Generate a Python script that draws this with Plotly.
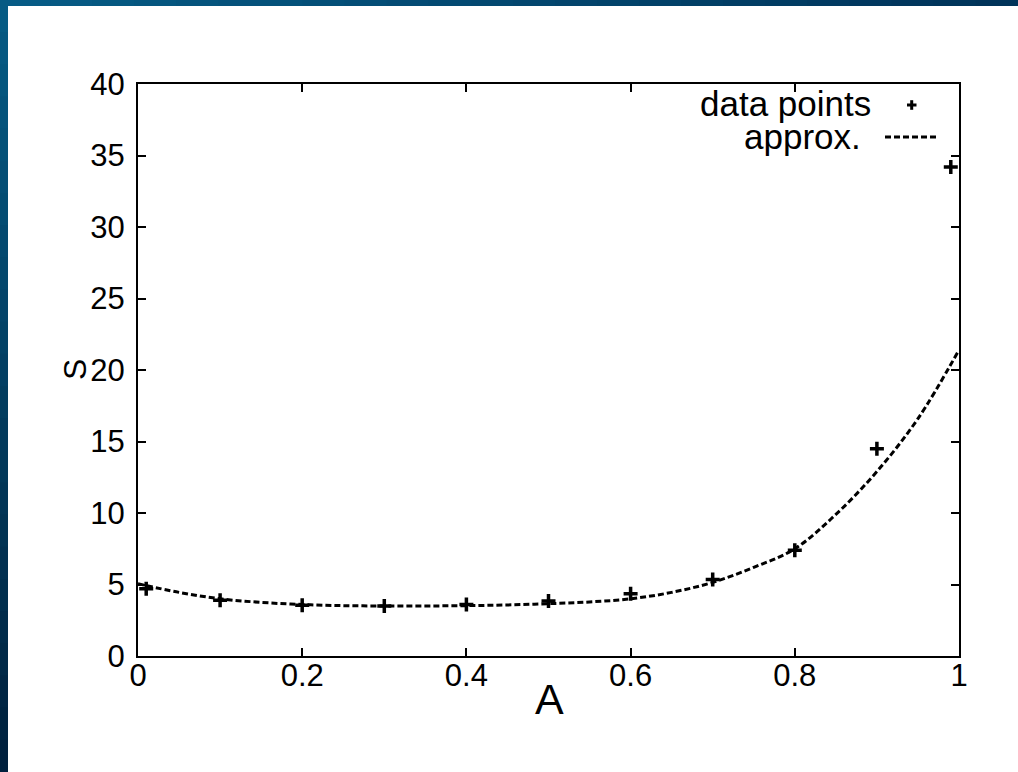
import plotly.graph_objects as go

# Data
data_A = [0.01, 0.1, 0.2, 0.3, 0.4, 0.5, 0.6, 0.7, 0.8, 0.9, 0.99]
data_S = [4.7, 3.9, 3.55, 3.5, 3.6, 3.85, 4.35, 5.35, 7.4, 14.5, 34.2]

approx_A = [0.0, 0.05, 0.1, 0.15, 0.2, 0.25, 0.3, 0.35, 0.4, 0.45, 0.5,
            0.55, 0.6, 0.65, 0.7, 0.75, 0.8, 0.85, 0.9, 0.95, 1.0]
approx_S = [5.05, 4.45, 4.0, 3.75, 3.6, 3.52, 3.5, 3.5, 3.52, 3.57, 3.66,
            3.78, 4.0, 4.45, 5.15, 6.2, 7.5, 9.9, 12.9, 16.6, 21.4]

x_ticks = [0, 0.2, 0.4, 0.6, 0.8, 1]
x_labels = ["0", "0.2", "0.4", "0.6", "0.8", "1"]
y_ticks = [0, 5, 10, 15, 20, 25, 30, 35, 40]

W, H = 1018, 772
L, R, T, B = 138, 59, 84, 116
PW, PH = W - L - R, H - T - B
FONT = "Liberation Sans, Arial, Helvetica, sans-serif"


def px(x):
    return (x - L) / PW


def py(y):
    return (H - B - y) / PH


def mix(c1, c2, t):
    return "rgb(%d,%d,%d)" % tuple(round(a + (b - a) * t) for a, b in zip(c1, c2))


fig = go.Figure()

fig.add_trace(go.Scatter(
    x=approx_A, y=approx_S, mode="lines", line_shape="spline",
    line=dict(color="black", width=3, dash="6px,3px"), showlegend=False,
))
fig.add_trace(go.Scatter(
    x=data_A, y=data_S, mode="markers",
    marker=dict(symbol="cross-thin", size=10, line=dict(color="black", width=3.5)),
    showlegend=False, cliponaxis=False,
))

shapes = []
# blue gradient bands (left and top)
c_tl = (6, 92, 134)
c_bl = (0, 32, 60)
c_tr = (0, 50, 88)
n = 24
for i in range(n):
    y0 = i * H / n
    y1 = (i + 1) * H / n + 1
    shapes.append(dict(type="rect", xref="paper", yref="paper", layer="below",
                       x0=px(0), x1=px(8), y0=py(y0), y1=py(y1),
                       fillcolor=mix(c_tl, c_bl, (i + 0.5) / n), line=dict(width=0)))
for i in range(n):
    x0 = 8 + i * (W - 8) / n
    x1 = 8 + (i + 1) * (W - 8) / n + 1
    shapes.append(dict(type="rect", xref="paper", yref="paper", layer="below",
                       x0=px(x0), x1=px(x1), y0=py(0), y1=py(6),
                       fillcolor=mix(c_tl, c_tr, (i + 0.5) / n), line=dict(width=0)))

# legend samples
shapes.append(dict(type="line", xref="paper", yref="paper",
                   x0=px(907), x1=px(916.5), y0=py(105), y1=py(105),
                   line=dict(color="black", width=3)))
shapes.append(dict(type="line", xref="paper", yref="paper",
                   x0=px(911.7), x1=px(911.7), y0=py(100.2), y1=py(109.8),
                   line=dict(color="black", width=3)))
shapes.append(dict(type="line", xref="paper", yref="paper",
                   x0=px(885), x1=px(938), y0=py(137), y1=py(137),
                   line=dict(color="black", width=3, dash="6px,3px")))

annotations = [
    dict(text="data points", xref="paper", yref="paper", x=px(872), y=py(103),
         xanchor="right", yanchor="middle", showarrow=False,
         font=dict(family=FONT, size=35, color="black"), borderpad=0),
    dict(text="approx.", xref="paper", yref="paper", x=px(862), y=py(136),
         xanchor="right", yanchor="middle", showarrow=False,
         font=dict(family=FONT, size=35, color="black"), borderpad=0),
    dict(text="A", xref="paper", yref="paper", x=px(549), y=py(699),
         xanchor="center", yanchor="middle", showarrow=False,
         font=dict(family=FONT, size=43, color="black")),
    dict(text="S", xref="paper", yref="paper", x=px(75), y=py(370),
         xanchor="center", yanchor="middle", showarrow=False, textangle=-90,
         font=dict(family=FONT, size=32, color="black")),
]

axis_common = dict(
    showgrid=False, zeroline=False, showline=True, linecolor="black", linewidth=2,
    mirror="allticks", ticks="inside", ticklen=8, tickwidth=1.5, tickcolor="black",
    tickfont=dict(family=FONT, size=31, color="black"),
)

fig.update_layout(
    width=W, height=H,
    margin=dict(l=L, r=R, t=T, b=B, autoexpand=False),
    paper_bgcolor="white", plot_bgcolor="white",
    xaxis=dict(range=[0, 1], tickvals=x_ticks, ticktext=x_labels,
               ticklabelstandoff=-9, **axis_common),
    yaxis=dict(range=[0, 40], tickvals=y_ticks, ticklabelstandoff=5, **axis_common),
    shapes=shapes, annotations=annotations, showlegend=False,
)

fig.write_html("out.html")
